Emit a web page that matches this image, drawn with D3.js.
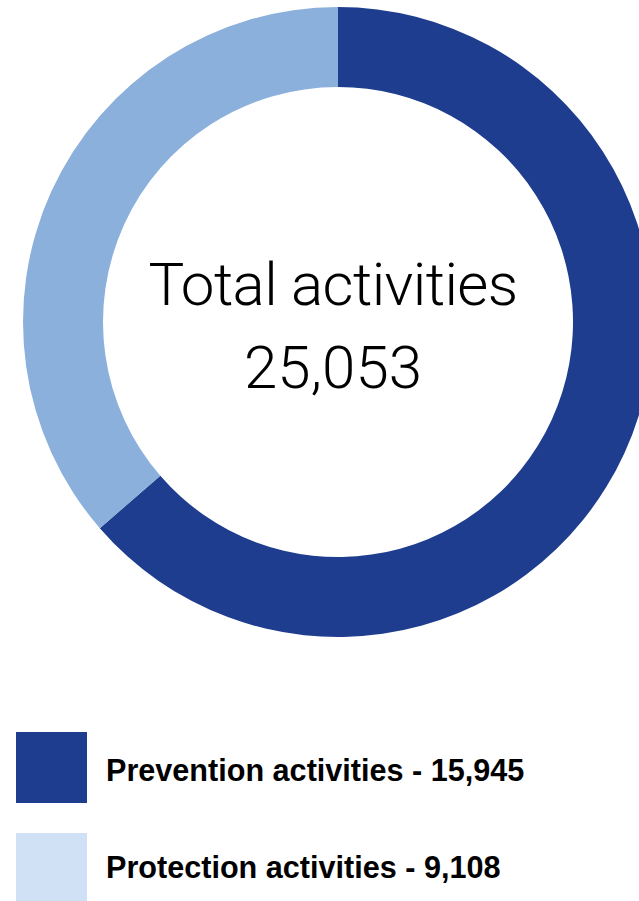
<!DOCTYPE html>
<html><head><meta charset="utf-8">
<script src="https://cdn.jsdelivr.net/npm/d3@7"></script>
<style>html,body{margin:0;padding:0;background:#fff;overflow:hidden}</style>
</head><body>
<svg id="chart" width="639" height="901"></svg>
<script>
const categories = ["Prevention activities", "Protection activities"];
const values = [15945, 9108];
const sliceColors = ["#1e3d8f", "#8bb0dc"];
const legendColors = ["#1e3d8f", "#d0e0f5"];
const centerLabel = "Total activities";
const total = d3.sum(values);

const svg = d3.select("#chart");
const cx = 338, cy = 322, R = 315, r = 235;

const pie = d3.pie().sort(null).value(d => d);
const arc = d3.arc().innerRadius(r).outerRadius(R);
const g = svg.append("g").attr("transform", `translate(${cx},${cy})`);
g.selectAll("path").data(pie(values)).join("path")
  .attr("d", arc).attr("fill", (d,i) => sliceColors[i]);

const fmt = d3.format(",");
g.append("text").attr("x", -5).attr("y", -17).attr("text-anchor", "middle")
  .attr("font-family", "Roboto, sans-serif").attr("font-weight", 300)
  .attr("letter-spacing", -0.6)
  .attr("font-size", 60).attr("fill", "#000").text(centerLabel);
g.append("text").attr("x", -5).attr("y", 66).attr("text-anchor", "middle")
  .attr("font-family", "Roboto, sans-serif").attr("font-weight", 300)
  .attr("font-size", 60).attr("fill", "#000").text(fmt(total));

const legend = svg.append("g");
const ly = d3.scaleBand().domain(categories).range([732, 904])
  .paddingInner(30 / 101).paddingOuter(0);
const ty = d3.scalePoint().domain(categories).range([781, 878]);
categories.forEach((c, i) => {
  legend.append("rect").attr("x", 16).attr("y", ly(c))
    .attr("width", 71).attr("height", ly.bandwidth()).attr("fill", legendColors[i]);
  legend.append("text").attr("x", 106).attr("y", ty(c))
    .attr("font-family", "'Liberation Sans', Arial, sans-serif").attr("font-weight", "bold")
    .attr("font-size", 30.6).attr("fill", "#000")
    .text(`${c} - ${fmt(values[i])}`);
});
</script>
</body></html>
